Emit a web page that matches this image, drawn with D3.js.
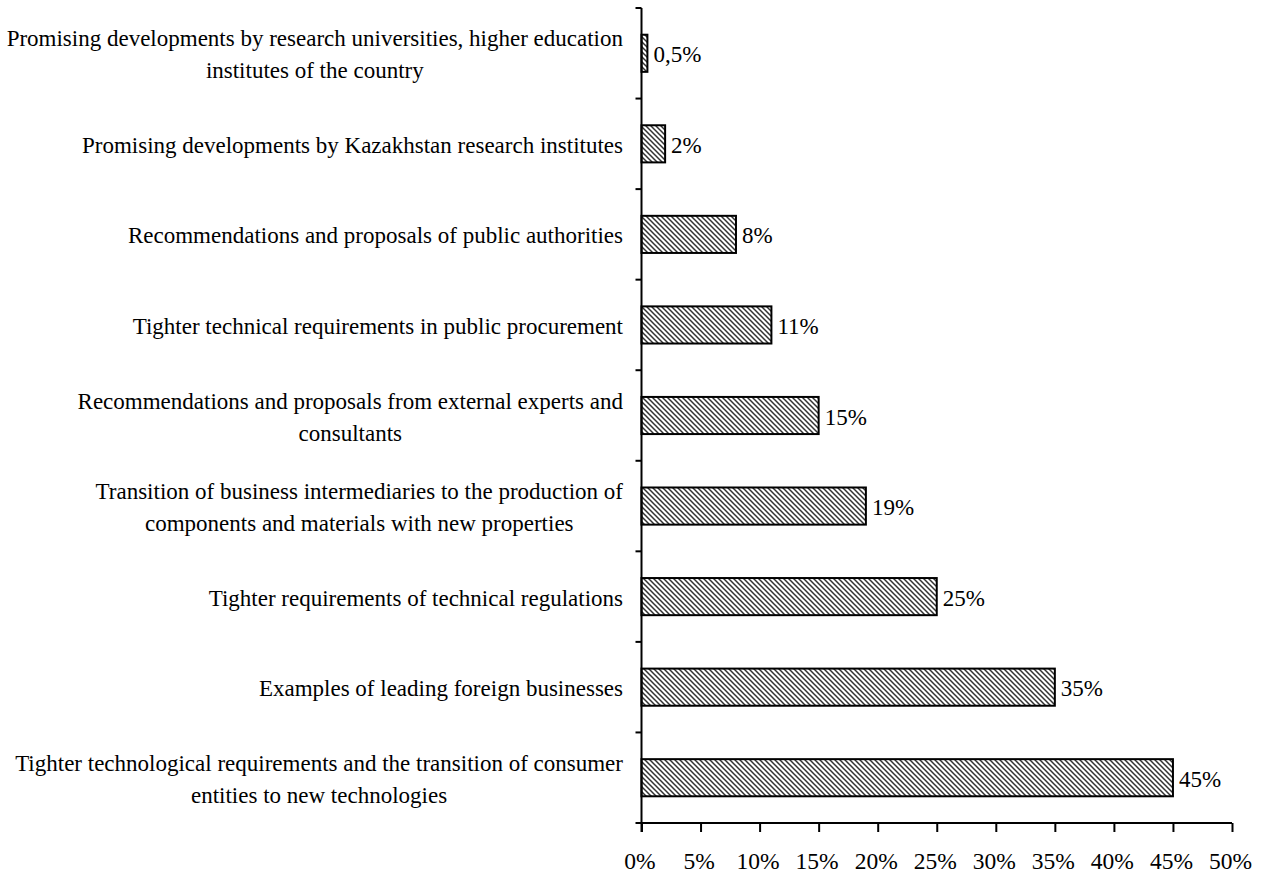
<!DOCTYPE html>
<html>
<head>
<meta charset="utf-8">
<script src="https://cdn.jsdelivr.net/npm/d3@7"></script>
<style>
  html, body { margin: 0; padding: 0; background: #fff; }
  svg { display: block; }
  text { font-family: "Liberation Serif", "Times New Roman", serif; fill: #000; }
</style>
</head>
<body>
<svg id="chart" width="1263" height="876"></svg>
<script>
const categories = [
  ["Promising developments by research universities, higher education", "institutes of the country"],
  ["Promising developments by Kazakhstan research institutes"],
  ["Recommendations and proposals of public authorities"],
  ["Tighter technical requirements in public procurement"],
  ["Recommendations and proposals from external experts and", "consultants"],
  ["Transition of business intermediaries to the production of", "components and materials with new properties"],
  ["Tighter requirements of technical regulations"],
  ["Examples of leading foreign businesses"],
  ["Tighter technological requirements and the transition of consumer", "entities to new technologies"]
];
const values = [0.5, 2, 8, 11, 15, 19, 25, 35, 45];
const valueLabels = ["0,5%", "2%", "8%", "11%", "15%", "19%", "25%", "35%", "45%"];
const xTicks = [0, 5, 10, 15, 20, 25, 30, 35, 40, 45, 50];

const svg = d3.select("#chart");
const mLeft = 641.5, mRight = 1232, mTop = 8, mBottom = 823;
const FS = 23;

const defs = svg.append("defs");
const s = 5;
const pat = defs.append("pattern")
  .attr("id", "hatch").attr("patternUnits", "userSpaceOnUse")
  .attr("width", s).attr("height", s);
pat.append("rect").attr("width", s).attr("height", s).attr("fill", "#fff");
pat.append("path")
  .attr("d", `M0,0L${s},${s}M${-1},${s-1}L1,${s+1}M${s-1},-1L${s+1},1`)
  .attr("stroke", "#333").attr("stroke-width", 1.5);

const x = d3.scaleLinear().domain([0, 50]).range([mLeft, mRight]);
const idx = d3.range(categories.length);
const y = d3.scaleBand().domain(idx).range([mTop, mBottom]).paddingInner(0.59).paddingOuter(0.295);
const yb = d3.scaleBand().domain(idx).range([mTop, mBottom]);

// bars
svg.append("g").selectAll("rect").data(values).join("rect")
  .attr("x", x(0))
  .attr("y", (d, i) => y(i))
  .attr("width", d => x(d) - x(0))
  .attr("height", y.bandwidth())
  .attr("fill", "url(#hatch)")
  .attr("stroke", "#000").attr("stroke-width", 2);

// value labels
svg.append("g").selectAll("text").data(values).join("text")
  .attr("x", d => x(d) + 6)
  .attr("y", (d, i) => y(i) + y.bandwidth() / 2 + 1)
  .attr("dy", "0.35em")
  .attr("font-size", FS)
  .text((d, i) => valueLabels[i]);

// x axis
const xAxis = svg.append("g").attr("transform", `translate(0,${mBottom})`)
  .call(d3.axisBottom(x).tickValues(xTicks).tickFormat(d => d + "%").tickSize(9).tickPadding(20));
xAxis.select(".domain").attr("d", `M${mLeft - 6},0H${mRight}`).attr("stroke-width", 2);
xAxis.selectAll(".tick line").attr("stroke-width", 2);
xAxis.selectAll(".tick text").attr("font-size", 23.5).attr("font-family", "Liberation Serif").attr("dx", "-2");

// y axis line with boundary ticks
const yAxis = svg.append("g");
yAxis.append("line").attr("x1", mLeft).attr("x2", mLeft).attr("y1", mTop).attr("y2", mBottom + 9)
  .attr("stroke", "#000").attr("stroke-width", 2);
const bounds = idx.map(i => yb(i));
yAxis.selectAll("line.t").data(bounds).join("line").attr("class", "t")
  .attr("x1", mLeft - 6).attr("x2", mLeft).attr("y1", d => d).attr("y2", d => d)
  .attr("stroke", "#000").attr("stroke-width", 2);

// category labels (centered block, right-aligned)
const lineH = 32;
const labG = svg.append("g");
categories.forEach((lines, i) => {
  const cy = y(i) + y.bandwidth() / 2 + 1;
  const t = labG.append("text").attr("font-size", FS).attr("text-anchor", "middle");
  const spans = lines.map((ln, j) => t.append("tspan").text(ln));
  let maxW = 0;
  spans.forEach(sp => { maxW = Math.max(maxW, sp.node().getComputedTextLength()); });
  const cx = 623 - maxW / 2;
  const y0 = cy - (lines.length - 1) * lineH / 2;
  spans.forEach((sp, j) => sp.attr("x", cx).attr("y", y0 + j * lineH).attr("dy", "0.35em"));
});
</script>
</body>
</html>
